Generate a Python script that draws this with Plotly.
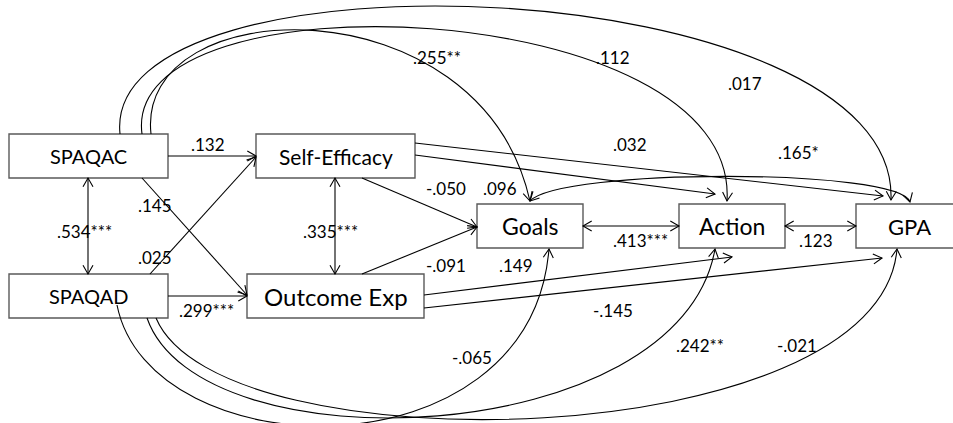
import math
import plotly.graph_objects as go

W, H = 953, 423

# ---- model content -------------------------------------------------------
nodes = ["SPAQAC", "SPAQAD", "Self-Efficacy", "Outcome Exp", "Goals", "Action", "GPA"]

edge_from = ["SPAQAC", "SPAQAC", "SPAQAC", "SPAQAD", "SPAQAD", "Self-Efficacy",
             "Self-Efficacy", "Outcome Exp", "Self-Efficacy", "Self-Efficacy",
             "Outcome Exp", "Outcome Exp", "Goals", "Action",
             "SPAQAC", "SPAQAC", "SPAQAC", "Goals",
             "SPAQAD", "SPAQAD", "SPAQAD"]
edge_to = ["Self-Efficacy", "SPAQAD", "Outcome Exp", "Self-Efficacy", "Outcome Exp",
           "Outcome Exp", "Goals", "Goals", "Action", "GPA",
           "Action", "GPA", "Action", "GPA",
           "Goals", "Action", "GPA", "GPA",
           "Goals", "Action", "GPA"]
coef = [".132", ".534***", ".145", ".025", ".299***", ".335***",
        "-.050", "-.091", ".096", ".032",
        ".149", "-.145", ".413***", ".123",
        ".255**", ".112", ".017", ".165*",
        "-.065", ".242**", "-.021"]
two_way = [False, True, False, False, False, True,
           False, False, False, False,
           False, False, True, True,
           False, False, False, True,
           False, False, False]

# ---- drawing layout (pixels, y downward) ----------------------------------
box_geom = {
    "SPAQAC":        dict(rect=(9, 134, 168, 178), size=20),
    "SPAQAD":        dict(rect=(9, 274, 168, 318), size=20),
    "Self-Efficacy": dict(rect=(256, 134, 415, 178), size=21),
    "Outcome Exp":   dict(rect=(247, 274, 424, 318), size=24),
    "Goals":         dict(rect=(477, 204, 583, 248), size=23),
    "Action":        dict(rect=(679, 204, 785, 248), size=23),
    "GPA":           dict(rect=(856, 204, 962, 248), size=22),
}

# route of each path: 2 points = straight, 4 points = cubic curve
routes = [
    [(168, 156), (256, 156)],
    [(88, 178), (88, 274)],
    [(142, 178), (247, 295)],
    [(150, 274), (256, 157)],
    [(168, 296), (247, 296)],
    [(335, 178), (335, 274)],
    [(362, 178), (477, 227)],
    [(362, 274), (477, 227)],
    [(415, 155), (715, 194)],
    [(415, 143), (883, 196)],
    [(424, 295), (732, 257)],
    [(424, 308), (882, 258)],
    [(583, 226), (679, 226)],
    [(785, 226), (856, 226)],
    [(151, 134), (135, -10), (480, -20), (530, 201)],
    [(142, 134), (120, -30), (740, -5), (727, 201)],
    [(120, 134), (100, -60), (900, -30), (891, 200)],
    [(530, 201), (560, 168), (900, 168), (910, 202)],
    [(117, 305), (150, 470), (530, 480), (549, 249)],
    [(147, 318), (200, 470), (680, 450), (715, 249)],
    [(156, 318), (220, 470), (880, 455), (897, 249)],
]
label_pos = [
    (208, 144), (84, 231), (155, 205), (155, 257), (206, 310), (330, 231),
    (446, 188), (446, 265), (500, 188), (630, 144),
    (516, 265), (613, 310), (640, 240), (816, 240),
    (437, 57), (613, 57), (745, 83), (798, 152),
    (472, 357), (700, 345), (797, 345),
]

LINE = dict(color="black", width=1.1)
HEAD_LEN, HEAD_ANG = 10, math.radians(30)


def arrow_head(tip, frm):
    dx, dy = tip[0] - frm[0], tip[1] - frm[1]
    n = math.hypot(dx, dy)
    ux, uy = dx / n, dy / n
    pts = []
    for s in (1, -1):
        c, si = math.cos(s * HEAD_ANG), math.sin(s * HEAD_ANG)
        rx, ry = ux * c - uy * si, ux * si + uy * c
        pts.append((tip[0] - HEAD_LEN * rx, tip[1] - HEAD_LEN * ry))
    return "M {:.1f} {:.1f} L {:.1f} {:.1f} L {:.1f} {:.1f}".format(
        pts[0][0], pts[0][1], tip[0], tip[1], pts[1][0], pts[1][1])


shapes = []
annotations = []

# boxes
for name in nodes:
    x0, y0, x1, y1 = box_geom[name]["rect"]
    shapes.append(dict(type="rect", xref="x", yref="y", x0=x0, y0=y0, x1=x1, y1=y1,
                       line=dict(color="#5a5a5a", width=1.4), fillcolor="white"))
    annotations.append(dict(x=(x0 + x1) / 2, y=(y0 + y1) / 2, xref="x", yref="y",
                            text=name, showarrow=False,
                            font=dict(family="Lato", size=box_geom[name]["size"], color="black"),
                            xanchor="center", yanchor="middle"))

# paths
for pts, both, txt, lp in zip(routes, two_way, coef, label_pos):
    if len(pts) == 2:
        d = "M {} {} L {} {}".format(*pts[0], *pts[1])
        end_from, start_from = pts[0], pts[1]
    else:
        d = "M {} {} C {} {}, {} {}, {} {}".format(*pts[0], *pts[1], *pts[2], *pts[3])
        end_from, start_from = pts[2], pts[1]
    shapes.append(dict(type="path", xref="x", yref="y", path=d, line=LINE))
    shapes.append(dict(type="path", xref="x", yref="y", path=arrow_head(pts[-1], end_from), line=LINE))
    if both:
        shapes.append(dict(type="path", xref="x", yref="y", path=arrow_head(pts[0], start_from), line=LINE))
    annotations.append(dict(x=lp[0], y=lp[1], xref="x", yref="y", text=txt, showarrow=False,
                            font=dict(family="Lato", size=17, color="black"),
                            xanchor="center", yanchor="middle"))

fig = go.Figure()
fig.update_layout(
    width=W, height=H, autosize=False,
    margin=dict(l=0, r=0, t=0, b=0, pad=0),
    paper_bgcolor="white", plot_bgcolor="white",
    xaxis=dict(range=[0, W], visible=False, fixedrange=True),
    yaxis=dict(range=[H, 0], visible=False, fixedrange=True),
    shapes=shapes, annotations=annotations, showlegend=False,
)
fig.write_html("out.html", config={"displayModeBar": False})
